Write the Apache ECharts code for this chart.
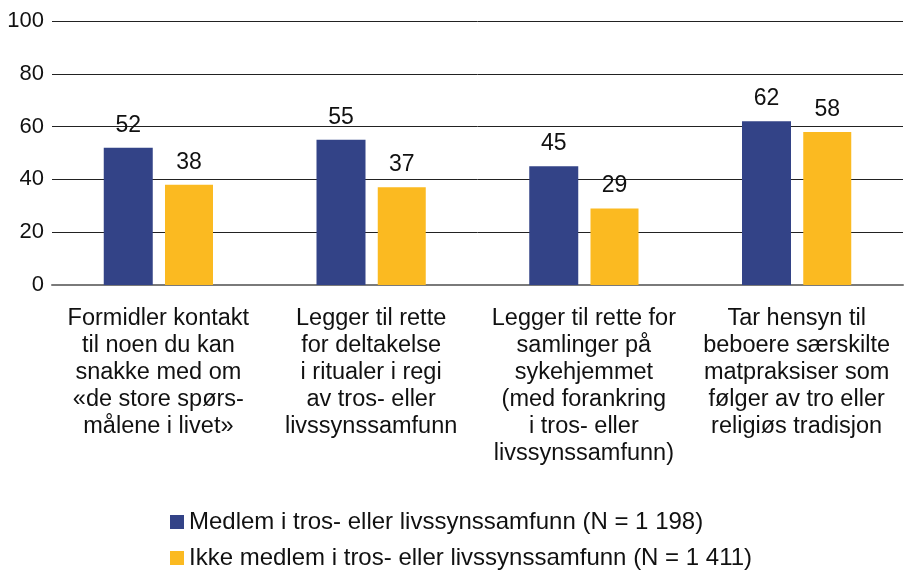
<!DOCTYPE html>
<html>
<head>
<meta charset="utf-8">
<script src="https://cdn.jsdelivr.net/npm/echarts@6/dist/echarts.min.js"></script>
<style>
  html, body { margin: 0; padding: 0; background: #fff; }
  #chart { width: 904px; height: 574px; }
</style>
</head>
<body>
<div id="chart"></div>
<script>
// data
const categories = [
    'Formidler kontakt\ntil noen du kan\nsnakke med om\n«de store spørs-\nmålene i livet»',
    'Legger til rette\nfor deltakelse\ni ritualer i regi\nav tros- eller\nlivssynssamfunn',
    'Legger til rette for\nsamlinger på\nsykehjemmet\n(med forankring\ni tros- eller\nlivssynssamfunn)',
    'Tar hensyn til\nbeboere særskilte\nmatpraksiser som\nfølger av tro eller\nreligiøs tradisjon'
];
const seriesNames = [
    'Medlem i tros- eller livssynssamfunn (N = 1 198)',
    'Ikke medlem i tros- eller livssynssamfunn (N = 1 411)'
];
const medlem = [52, 55, 45, 62];
const ikkeMedlem = [38, 37, 29, 58];

const font = 'Liberation Sans, Arial, sans-serif';
const chart = echarts.init(document.getElementById('chart'));

const valueLabel = {
    show: true,
    position: 'top',
    distance: 11,
    color: '#111',
    fontSize: 23,
    fontFamily: font
};

chart.setOption({
    animation: false,
    textStyle: { fontFamily: font },
    grid: { left: 52, right: 1, top: 21, bottom: 289 },
    legend: {
        orient: 'vertical',
        left: 170,
        top: 510,
        padding: 0,
        itemGap: 12,
        itemWidth: 14,
        itemHeight: 14,
        icon: 'rect',
        textStyle: { fontSize: 24, color: '#111', fontFamily: font },
        data: seriesNames
    },
    xAxis: {
        type: 'category',
        data: categories,
        axisLine: { lineStyle: { color: '#7a7a7a', width: 2 } },
        axisTick: { show: false },
        axisLabel: {
            interval: 0,
            margin: 20,
            fontSize: 23.5,
            lineHeight: 27,
            color: '#111',
            fontFamily: font
        }
    },
    yAxis: {
        type: 'value',
        min: 0,
        max: 100,
        interval: 20,
        axisLine: { show: false },
        axisTick: { show: false },
        axisLabel: { fontSize: 22, color: '#111', margin: 8, fontFamily: font },
        splitLine: { lineStyle: { color: '#222', width: 1 } }
    },
    series: [
        {
            name: seriesNames[0],
            type: 'bar',
            data: medlem,
            barWidth: 49,
            barGap: '25%',
            itemStyle: { color: '#334387' },
            label: valueLabel
        },
        {
            name: seriesNames[1],
            type: 'bar',
            data: ikkeMedlem,
            barWidth: 48,
            itemStyle: { color: '#FBBA21' },
            label: valueLabel
        }
    ]
});
</script>
</body>
</html>
